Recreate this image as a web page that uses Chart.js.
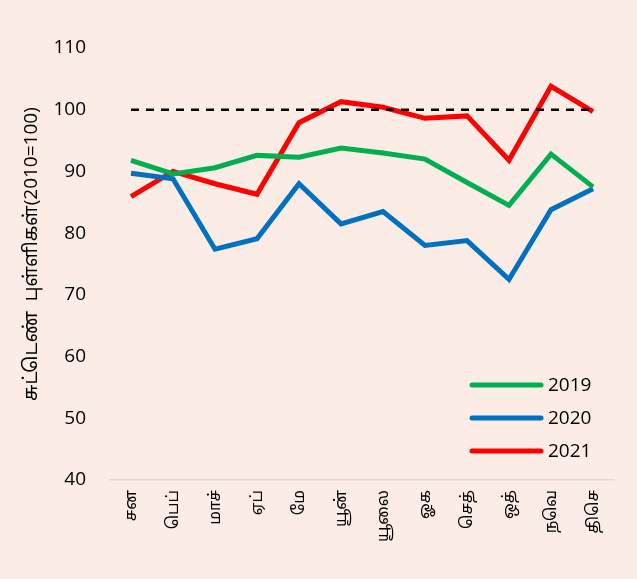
<!DOCTYPE html>
<html>
<head>
<meta charset="utf-8">
<script src="https://cdn.jsdelivr.net/npm/chart.js"></script>
<style>
  body { margin: 0; background: #FBEDE5; }
  canvas { display: block; }
</style>
</head>
<body>
<canvas id="indexChart" width="637" height="579"></canvas>
<script>
// données
const months = ['சன', 'பெப்', 'மாச்', 'ஏப்', 'மே', 'யூன்', 'யூலை', 'ஓக', 'செத்', 'ஒத்', 'நவெ', 'திசெ'];
const values2019 = [91.8, 89.6, 90.6, 92.6, 92.3, 93.8, 93.0, 92.0, 88.2, 84.5, 92.8, 87.5];
const values2020 = [89.7, 88.8, 77.4, 79.1, 88.0, 81.5, 83.5, 78.0, 78.8, 72.5, 83.8, 87.2];
const values2021 = [85.9, 90.0, 88.0, 86.3, 97.9, 101.3, 100.4, 98.6, 99.0, 91.8, 103.8, 99.7];
const baseLine = [100, 100, 100, 100, 100, 100, 100, 100, 100, 100, 100, 100];
const yTicks = [40, 50, 60, 70, 80, 90, 100, 110];

const fontFamily = "'Open Sans', 'Noto Sans', 'Noto Sans Tamil', sans-serif";

// légende dessinée dans la zone du graphique
const insideLegend = {
  id: 'insideLegend',
  afterDraw(chart) {
    const ctx = chart.ctx;
    const area = chart.chartArea;
    const items = chart.data.datasets.filter(d => d.label);
    ctx.save();
    items.forEach((d, i) => {
      const y = area.bottom - 95 + i * 33;
      ctx.strokeStyle = d.borderColor;
      ctx.lineWidth = 5;
      ctx.lineCap = 'round';
      ctx.beginPath();
      ctx.moveTo(area.right - 142, y);
      ctx.lineTo(area.right - 73, y);
      ctx.stroke();
      ctx.fillStyle = '#000';
      ctx.font = '19px ' + fontFamily;
      ctx.textBaseline = 'middle';
      ctx.fillText(d.label, area.right - 66, y + 1);
    });
    ctx.restore();
  }
};

const ctx1 = document.getElementById('indexChart').getContext('2d');
const indexChart = new Chart(ctx1, {
  type: 'line',
  data: {
    labels: months,
    datasets: [
      {
        label: '',
        data: baseLine,
        borderColor: '#000000',
        borderWidth: 2.5,
        borderDash: [8, 7],
        pointRadius: 0
      },
      {
        label: '2019',
        data: values2019,
        borderColor: '#00B050',
        borderWidth: 5,
        pointRadius: 0
      },
      {
        label: '2020',
        data: values2020,
        borderColor: '#0070C0',
        borderWidth: 5,
        pointRadius: 0
      },
      {
        label: '2021',
        data: values2021,
        borderColor: '#FF0000',
        borderWidth: 5,
        pointRadius: 0
      }
    ]
  },
  options: {
    responsive: false,
    animation: false,
    layout: { padding: { top: 48, right: 23, left: 0, bottom: 0 } },
    plugins: {
      legend: { display: false },
      tooltip: { enabled: false }
    },
    scales: {
      x: {
        offset: true,
        grid: { display: false, drawTicks: false },
        border: { display: true, color: '#D9D9D9', width: 1.5 },
        ticks: {
          color: '#000',
          font: { size: 16, family: fontFamily },
          maxRotation: 90,
          minRotation: 90,
          padding: 10
        },
        afterFit(axis) { axis.height = 99; }
      },
      y: {
        min: 40,
        max: 110,
        afterBuildTicks(axis) { axis.ticks = yTicks.map(v => ({ value: v })); },
        grid: { display: false, drawTicks: false },
        border: { display: false },
        ticks: {
          color: '#000',
          font: { size: 19, family: fontFamily },
          padding: 24
        },
        title: {
          display: true,
          text: '    சுட்டெண்  புள்ளிகள்(2010=100)',
          color: '#000',
          font: { size: 19, family: fontFamily },
          padding: { top: 20, bottom: 0 }
        },
        afterFit(axis) { axis.width = 110; }
      }
    }
  },
  plugins: [insideLegend]
});
</script>
</body>
</html>
